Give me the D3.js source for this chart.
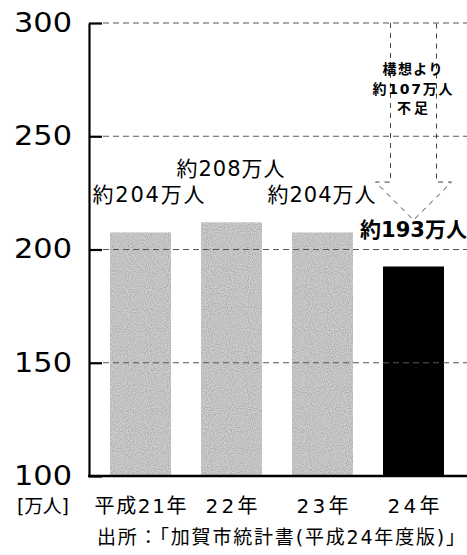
<!DOCTYPE html>
<html>
<head>
<meta charset="utf-8">
<script src="https://cdn.jsdelivr.net/npm/d3@7"></script>
<style>
  html, body { margin: 0; padding: 0; background: #fff; }
  svg { display: block; }
</style>
</head>
<body>
<svg id="chart" width="467" height="555"></svg>
<script>
// ---- data ----
const categories = ["平成21年", "22年", "23年", "24年"];
const barValues = [207.5, 212, 207.5, 192.5];          // bar heights as drawn (万人)
const valueLabels = ["約204万人", "約208万人", "約204万人", "約193万人"];
const yTicks = [100, 150, 200, 250, 300];
const gridValues = [150, 200, 250, 300];
const unitLabel = "[万人]";
const sourceLabel = "出所：「加賀市統計書(平成24年度版)」";
const plan = 300;            // 構想
const arrowTip = 213;        // arrow tip value
const arrowNote = ["構想より", "約107万人", "不足"];

// ---- layout ----
const W = 467, H = 555;
const axisX = 89;
const svg = d3.select("#chart");
const JP = "'DejaVu Sans', 'Noto Sans CJK JP', sans-serif";

// grain texture for the grey bars
const defs = svg.append("defs");
const f = defs.append("filter").attr("id", "grain").attr("x", 0).attr("y", 0).attr("width", 1).attr("height", 1);
f.append("feTurbulence").attr("type", "fractalNoise").attr("baseFrequency", 0.95).attr("numOctaves", 1).attr("seed", 3).attr("result", "n");
f.append("feColorMatrix").attr("in", "n").attr("type", "matrix")
  .attr("values", "0 0 0 0 0.35  0 0 0 0 0.35  0 0 0 0 0.35  0 0 0 2.2 -0.85").attr("result", "g");
f.append("feComposite").attr("in", "g").attr("in2", "SourceGraphic").attr("operator", "in").attr("result", "gi");
const fm = f.append("feMerge");
fm.append("feMergeNode").attr("in", "SourceGraphic");
fm.append("feMergeNode").attr("in", "gi");

const y = d3.scaleLinear().domain([100, 300]).range([476, 23]);
const x = d3.scaleBand().domain(categories).range([95, 459]).paddingInner(0.33).paddingOuter(0.165);

// bars
svg.append("g").selectAll("rect")
  .data(categories)
  .join("rect")
  .attr("x", d => x(d))
  .attr("width", x.bandwidth())
  .attr("y", (d, i) => y(barValues[i]))
  .attr("height", (d, i) => y(100) - y(barValues[i]))
  .attr("fill", (d, i) => i === categories.length - 1 ? "#000" : "#cdcdcd")
  .attr("filter", (d, i) => i === categories.length - 1 ? null : "url(#grain)");

// dashed grid
svg.append("g").selectAll("line")
  .data(gridValues)
  .join("line")
  .attr("x1", axisX + 14).attr("x2", W)
  .attr("y1", d => y(d)).attr("y2", d => y(d))
  .attr("stroke", "#555").attr("stroke-width", 1)
  .attr("stroke-dasharray", "6,4");

// y axis
const yAxis = d3.axisLeft(y).tickValues(yTicks).tickSizeInner(-13).tickSizeOuter(0).tickPadding(17);
const gy = svg.append("g").attr("transform", `translate(${axisX},0)`).call(yAxis);
gy.select(".domain").attr("stroke", "#000").attr("stroke-width", 2.2);
gy.selectAll(".tick line").attr("stroke", "#000").attr("stroke-width", 2.2);
gy.selectAll(".tick text")
  .attr("font-family", "'DejaVu Sans', sans-serif")
  .attr("font-size", 26)
  .attr("fill", "#000")
  .attr("textLength", 58)
  .attr("lengthAdjust", "spacingAndGlyphs");

// bottom axis line
svg.append("line")
  .attr("x1", axisX - 1).attr("x2", W)
  .attr("y1", y(100)).attr("y2", y(100))
  .attr("stroke", "#000").attr("stroke-width", 2.5);

// category labels
const catWidths = [92, 52, 52, 52];
svg.append("g").selectAll("text")
  .data(categories)
  .join("text")
  .attr("x", d => x(d) + x.bandwidth() / 2)
  .attr("y", 513)
  .attr("text-anchor", "middle")
  .attr("font-family", JP)
  .attr("font-size", 20)
  .attr("textLength", (d, i) => catWidths[i])
  .attr("lengthAdjust", "spacing")
  .text(d => d);

// unit label
svg.append("text")
  .attr("x", 17).attr("y", 513)
  .attr("font-family", JP).attr("font-size", 19)
  .attr("textLength", 52).attr("lengthAdjust", "spacing")
  .text(unitLabel);

// source
svg.append("text")
  .attr("x", 97).attr("y", 544)
  .attr("font-family", JP).attr("font-size", 19)
  .attr("textLength", 368).attr("lengthAdjust", "spacing")
  .text(sourceLabel);

// value labels
const labelDx = [8, -1, -1, 0];
const labelDy = [-31, -46, -31, -29];
const labelW = [112, 108, 108, 107];
svg.append("g").selectAll("text")
  .data(categories)
  .join("text")
  .attr("x", (d, i) => x(d) + x.bandwidth() / 2 + labelDx[i])
  .attr("y", (d, i) => y(barValues[i]) + labelDy[i])
  .attr("text-anchor", "middle")
  .attr("font-family", JP)
  .attr("font-size", 21)
  .attr("font-weight", (d, i) => i === categories.length - 1 ? "bold" : "normal")
  .attr("textLength", (d, i) => labelW[i])
  .attr("lengthAdjust", "spacing")
  .text((d, i) => valueLabels[i]);

// hollow dashed arrow
const last = categories[categories.length - 1];
const cx = x(last) + x.bandwidth() / 2;
const shaftHalf = 23, headHalf = 38;
const yTop = y(plan), yTip = y(arrowTip), yNeck = yTip - 38;
const arrowPts = [
  [cx - shaftHalf, yTop], [cx - shaftHalf, yNeck], [cx - headHalf, yNeck],
  [cx, yTip],
  [cx + headHalf, yNeck], [cx + shaftHalf, yNeck], [cx + shaftHalf, yTop]
];
svg.append("path")
  .attr("d", d3.line()(arrowPts))
  .attr("fill", "none")
  .attr("stroke", "#444").attr("stroke-width", 1)
  .attr("stroke-dasharray", "5,5");

// arrow note
const noteW = [60, 80, 31];
svg.append("g").selectAll("text")
  .data(arrowNote)
  .join("text")
  .attr("x", cx - 1)
  .attr("y", (d, i) => 74 + i * 19.5)
  .attr("text-anchor", "middle")
  .attr("font-family", JP)
  .attr("font-size", 14)
  .attr("font-weight", "bold")
  .attr("textLength", (d, i) => noteW[i])
  .attr("lengthAdjust", "spacing")
  .text(d => d);
</script>
</body>
</html>
